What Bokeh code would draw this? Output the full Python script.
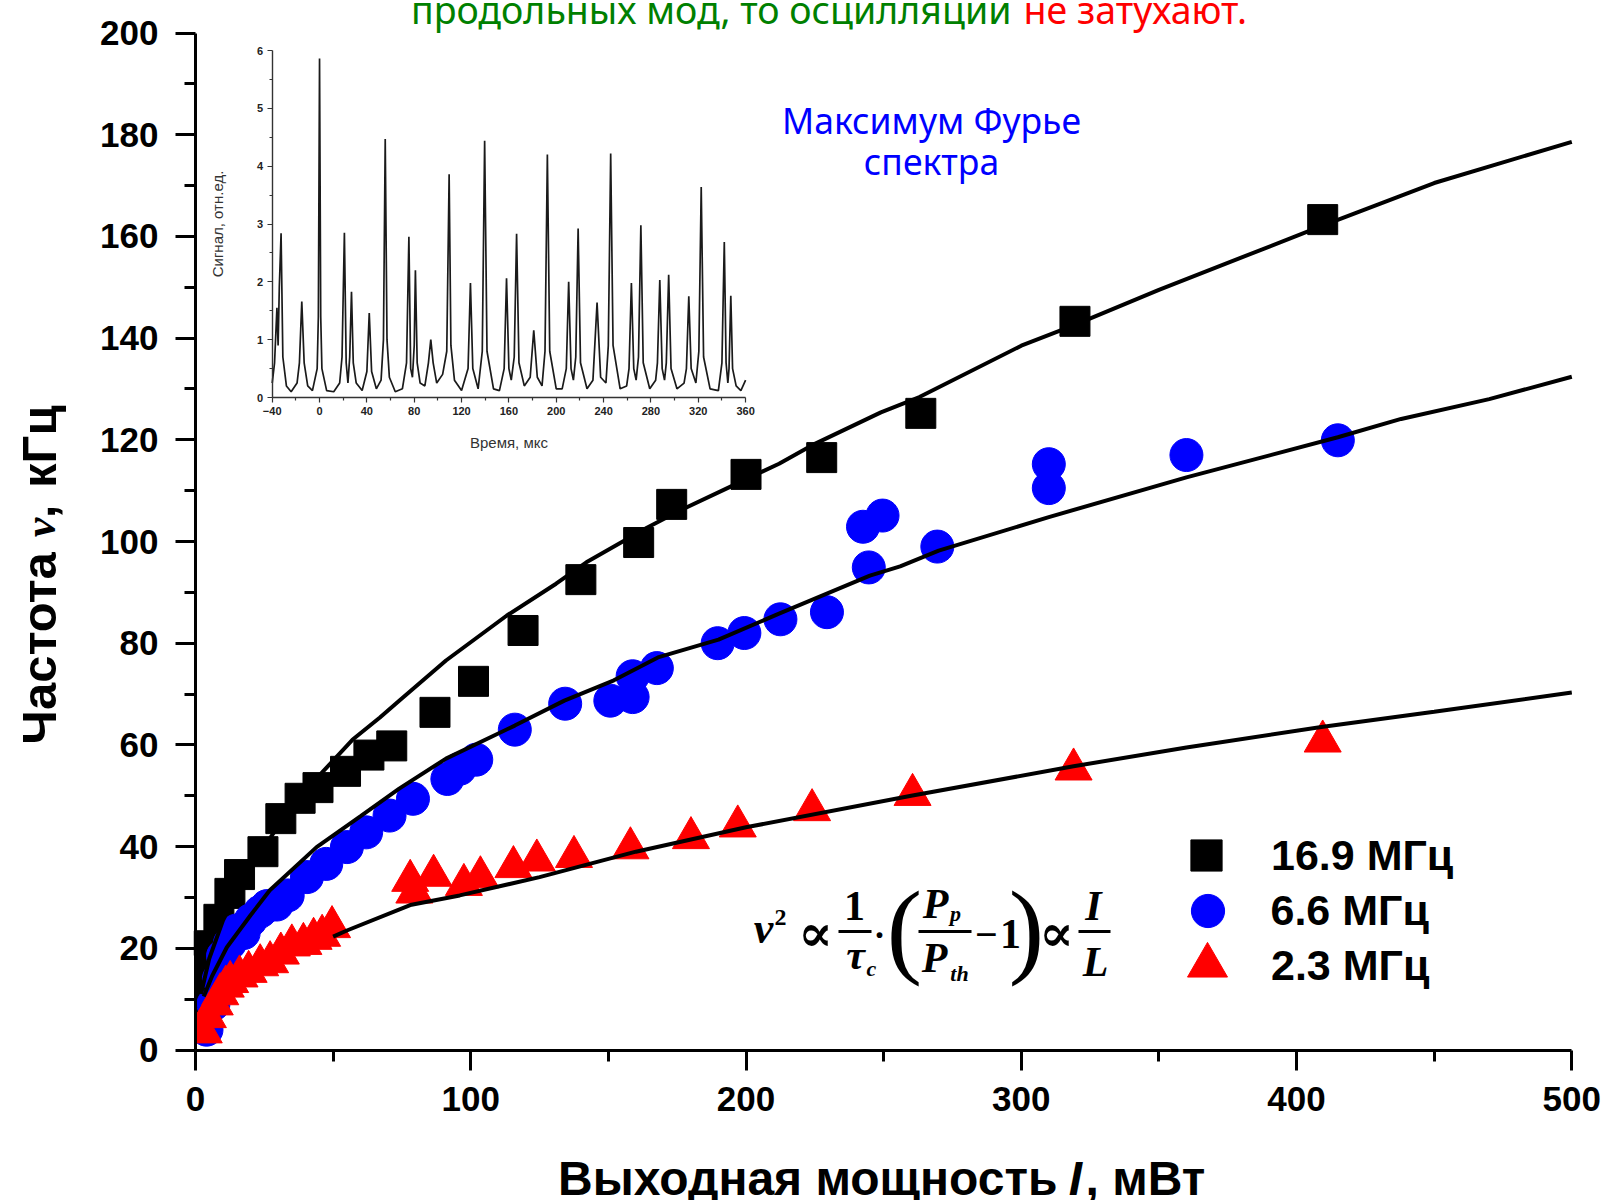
import math
from bokeh.plotting import figure
from bokeh.models import (Range1d, LinearAxis, FixedTicker, Label, BoxAnnotation,
                          Legend, LegendItem)
from bokeh.embed import file_html
from bokeh.resources import INLINE

# ---------------- data ----------------
# 16.9 MHz (black squares)
power_169 = [2.5, 3.5, 5, 8.5, 12.5, 16, 24.5, 31, 38, 44.5, 54.5, 63,
             71.3, 87, 101, 119, 140, 161, 173, 200, 227.5, 263.5, 319.5, 409.5]
freq_169 = [10, 15, 20.5, 25.7, 30.8, 34.5, 39, 45.5, 49.5, 51.6, 54.8, 58,
            59.8, 66.4, 72.5, 82.5, 92.5, 99.8, 107.3, 113.2, 116.5, 125.2, 143.3, 163.3]

# 6.6 MHz (blue circles)
power_66 = [4, 6.5, 8.5, 10, 12.5, 15, 17.5, 20, 23.5, 26, 29.5, 33.5, 40.5, 47.5,
            55, 62, 70.5, 79, 91.5, 96, 102, 116, 134.3, 150.7, 158.8, 158.8, 167.6,
            189.7, 199.4, 212.5, 229.4, 242.5, 244.6, 249.6, 269.5, 310, 310, 360, 415]
freq_66 = [4, 9, 14, 18.5, 21, 23.5, 23, 25.5, 27.2, 28.3, 28.6, 30.4, 34, 36.6,
           39.9, 42.8, 46.1, 49.4, 53.3, 55.3, 57.1, 63, 68.1, 68.7, 69.4, 73.5, 75.1,
           80, 82, 84.7, 86.1, 102.9, 94.9, 105.1, 99, 110.5, 115.2, 117, 119.9]

# 2.3 MHz (red triangles)
power_23 = [3, 4.5, 7, 9, 11, 12.6, 16, 19.3, 23.5, 27.1, 31, 35, 39.2, 42.9, 46, 49.6,
            78, 79.5, 86.5, 97.5, 103.5, 115.5, 124, 137.5, 158, 180, 197, 224, 260.5, 319, 409.5]
freq_23 = [3.5, 6.5, 9, 11, 12.5, 13.4, 14.5, 15.4, 16.7, 17.3, 19, 20.6, 20.9, 21.9, 22.5, 24.2,
           33.3, 31, 34.3, 32.5, 34, 36, 37.3, 38, 39.7, 41.7, 44, 47.2, 50.2, 55.2, 60.7]

# fitted curves
fit_169_x = [2, 5, 10, 20, 30, 45, 57, 67, 74, 91, 113, 131, 142, 164, 176, 194, 212,
             225, 249, 263, 300, 319, 350, 409, 450, 500]
fit_169_y = [11, 18, 25.5, 36, 44, 54, 61, 65.4, 68.7, 76.6, 85.4, 91.7, 95.9, 102.7,
             106.1, 110.7, 115.3, 119.2, 125.4, 128.4, 138.5, 142.5, 149.5, 162, 170.5, 178.6]
fit_66_x = [3, 6, 11.4, 20, 27, 44, 60, 74, 91, 116, 134, 152, 168, 190, 212, 245, 256,
            270, 310, 360, 415, 438, 470, 500]
fit_66_y = [10.5, 14.5, 20.2, 26.5, 31.4, 39.9, 46, 51.4, 57.3, 63.8, 68.7, 72.7, 77.2,
            80.7, 85.8, 93.3, 95.1, 98.2, 104.8, 112.6, 120.5, 124.1, 128, 132.4]
fit_23_x = [50, 55, 78, 96, 125, 160, 200, 260, 319, 360, 409, 450, 500]
fit_23_y = [22.3, 23.5, 28.5, 30.4, 34, 39, 43.8, 50, 55.8, 59.5, 63.5, 66.5, 70.3]

legend_labels = ["16.9 МГц", "6.6 МГц", "2.3 МГц"]
x_ticks = [0, 100, 200, 300, 400, 500]
y_ticks = [0, 20, 40, 60, 80, 100, 120, 140, 160, 180, 200]

# inset: oscillogram (time in µs, signal in a.u.)
inset_trace = [
    (-40, 0.25), (-38, 0.6), (-36, 1.55), (-35, 0.9), (-34, 1.9), (-32.5, 2.84), (-31, 0.7),
    (-28, 0.2), (-24, 0.1), (-19, 0.25), (-17, 0.6), (-15, 1.66), (-13, 0.6), (-10, 0.2),
    (-6, 0.12), (-2, 0.5), (-1, 1.4), (0, 5.86), (1, 1.4), (2, 0.5), (6, 0.12), (12, 0.1),
    (17, 0.25), (19, 0.7), (21, 2.85), (22.5, 0.6), (24, 0.25), (25.5, 0.7), (27, 1.83),
    (28.5, 0.6), (31, 0.25), (36, 0.12), (40, 0.45), (42, 1.46), (44, 0.45), (48, 0.15),
    (52, 0.3), (54, 1.0), (55.5, 4.47), (57, 1.0), (59, 0.35), (64, 0.1), (70, 0.15),
    (73.5, 0.6), (75.5, 2.78), (77, 0.5), (78.5, 0.35), (80, 0.9), (81, 2.2), (82.5, 0.6),
    (85, 0.25), (89, 0.2), (92, 0.6), (94, 1.0), (96, 0.6), (99, 0.25), (104, 0.4),
    (107.5, 0.8), (109.5, 3.86), (111, 0.9), (114, 0.3), (120, 0.12), (125.5, 0.5),
    (127.5, 1.98), (129.5, 0.5), (134, 0.15), (137.5, 0.8), (139.5, 4.44), (141.5, 0.8),
    (147, 0.15), (152, 0.12), (156, 0.5), (158, 2.06), (160, 0.5), (162, 0.3), (164.5, 0.7),
    (166.5, 2.83), (168.5, 0.6), (173, 0.2), (178, 0.35), (181, 1.16), (184, 0.35), (188, 0.2),
    (190.5, 0.8), (192.5, 4.2), (194.5, 0.8), (200, 0.15), (205, 0.15), (208.5, 0.5),
    (210.5, 2.0), (212.5, 0.5), (214.5, 0.3), (216.5, 0.7), (218.5, 2.92), (220.5, 0.6),
    (226, 0.15), (231, 0.3), (234.5, 1.64), (237.5, 0.35), (242, 0.25), (244, 0.9),
    (246, 4.22), (248, 0.9), (254, 0.15), (259.5, 0.2), (261.5, 0.5), (263.5, 1.98),
    (265.5, 0.5), (267.5, 0.3), (269.5, 0.7), (271.5, 2.98), (273.5, 0.6), (279, 0.15),
    (284, 0.3), (285.5, 0.6), (287.5, 2.03), (289.5, 0.5), (291.5, 0.3), (293, 0.6),
    (295, 2.12), (297, 0.5), (302, 0.15), (308, 0.25), (310, 0.5), (312, 1.75), (314, 0.5),
    (318, 0.25), (320.5, 0.8), (322.5, 3.64), (324.5, 0.7), (330, 0.15), (337, 0.12),
    (340, 0.6), (342, 2.69), (343.5, 0.6), (345, 0.25), (346, 0.5), (347.5, 1.76),
    (349, 0.5), (352, 0.2), (356, 0.12), (360, 0.3)]
inset_time = [t for t, s in inset_trace]
inset_signal = [s for t, s in inset_trace]
inset_xticks = [-40, 0, 40, 80, 120, 160, 200, 240, 280, 320, 360]
inset_yticks = [0, 1, 2, 3, 4, 5, 6]

# ---------------- layout geometry (page pixels) ----------------
W, H = 1605, 1200
X0P, X500P = 195.0, 1571.3     # x = 0 and x = 500
Y0P, Y200P = 1049.5, 32.5      # y = 0 and y = 200
SXU = (X500P - X0P) / 500.0
SYU = (Y0P - Y200P) / 200.0


def px_x(X):
    return (X - X0P) / SXU


def px_y(Y):
    return (Y0P - Y) / SYU


p = figure(width=W, height=H,
           x_range=Range1d(px_x(0), px_x(W)),
           y_range=Range1d(px_y(H), px_y(0)),
           x_axis_type=None, y_axis_type=None,
           output_backend="svg", toolbar_location=None,
           min_border_left=0, min_border_right=0, min_border_top=0, min_border_bottom=0)
p.outline_line_color = None
p.grid.visible = False
p.background_fill_color = "white"
p.border_fill_color = "white"

xa = LinearAxis(fixed_location=0, bounds=(0, 500),
                ticker=FixedTicker(ticks=x_ticks, minor_ticks=[v + 50 for v in x_ticks[:-1]]))
ya = LinearAxis(fixed_location=0, bounds=(0, 200),
                ticker=FixedTicker(ticks=y_ticks, minor_ticks=[v + 10 for v in y_ticks[:-1]]))
for ax in (xa, ya):
    ax.axis_line_width = 3
    ax.axis_line_color = "black"
    ax.major_tick_line_width = 3
    ax.minor_tick_line_width = 3
    ax.major_tick_line_color = "black"
    ax.minor_tick_line_color = "black"
    ax.major_tick_in = 0
    ax.major_tick_out = 20
    ax.minor_tick_in = 0
    ax.minor_tick_out = 11
    ax.major_label_text_font = "Liberation Sans"
    ax.major_label_text_font_style = "bold"
    ax.major_label_text_font_size = "35px"
    ax.major_label_text_color = "black"
    ax.major_label_standoff = 17
p.add_layout(xa, "below")
p.add_layout(ya, "left")

# ---------------- inset (oscillogram) ----------------
IX_L, IX_R = 271.7, 745.1   # page px of t=-40 and t=360
IY_B, IY_T = 397.0, 50.0    # page px of signal 0 and 6
ux = 400.0 / (IX_R - IX_L)
ix_start = -40 - IX_L * ux
uy = 6.0 / (IY_B - IY_T)
iy_start = -(H - IY_B) * uy
p.extra_x_ranges = {"ix": Range1d(ix_start, ix_start + W * ux)}
p.extra_y_ranges = {"iy": Range1d(iy_start, iy_start + H * uy)}

iax = LinearAxis(x_range_name="ix", y_range_name="iy", fixed_location=0,
                 bounds=(inset_xticks[0], inset_xticks[-1]),
                 ticker=FixedTicker(ticks=inset_xticks,
                                    minor_ticks=[t + 20 for t in inset_xticks[:-1]]),
                 axis_label="Время, мкс")
iay = LinearAxis(x_range_name="ix", y_range_name="iy", fixed_location=inset_xticks[0],
                 bounds=(inset_yticks[0], inset_yticks[-1]),
                 ticker=FixedTicker(ticks=inset_yticks,
                                    minor_ticks=[v + 0.5 for v in inset_yticks[:-1]]),
                 axis_label="Сигнал, отн.ед.")
for ax in (iax, iay):
    ax.axis_line_color = "#333333"
    ax.axis_line_width = 1.4
    ax.major_tick_line_color = "#333333"
    ax.minor_tick_line_color = "#333333"
    ax.major_tick_line_width = 1.2
    ax.minor_tick_line_width = 1.2
    ax.major_tick_in = 0
    ax.major_tick_out = 5
    ax.minor_tick_in = 0
    ax.minor_tick_out = 3
    ax.major_label_text_font = "Liberation Sans"
    ax.major_label_text_font_style = "bold"
    ax.major_label_text_font_size = "11px"
    ax.major_label_text_color = "#222222"
    ax.major_label_standoff = 4
    ax.axis_label_text_font = "Liberation Sans"
    ax.axis_label_text_font_style = "normal"
    ax.axis_label_text_font_size = "15px"
    ax.axis_label_text_color = "#333333"
iax.axis_label_standoff = 16
iay.axis_label_standoff = 28
p.add_layout(iax, "below")
p.add_layout(iay, "left")

p.line(inset_time, inset_signal, x_range_name="ix", y_range_name="iy",
       line_color="#1a1a1a", line_width=1.7)

# ---------------- main data ----------------
r_sq = p.scatter(power_169, freq_169, marker="square", size=30,
                 fill_color="black", line_color="black")
r_ci = p.scatter(power_66, freq_66, marker="circle", size=33,
                 fill_color="#0000ff", line_color="#0000ff")
r_tr = p.scatter(power_23, freq_23, marker="triangle", size=37,
                 fill_color="#ff0000", line_color="#ff0000")

for fx, fy in ((fit_169_x, fit_169_y), (fit_66_x, fit_66_y), (fit_23_x, fit_23_y)):
    p.line(fx, fy, line_color="black", line_width=4)

# the original clips the markers at the y axis: mask the part left of it (under the axis)
p.add_layout(BoxAnnotation(left=px_x(168), right=px_x(193.5), top=px_y(955),
                           bottom=px_y(1047), fill_color="white", fill_alpha=1,
                           line_color=None, level="glyph"))


# legend: one box per entry so each symbol gets its own size and row position
def legend_entry(renderer, text, box, cx, cy, label_left):
    left = cx - box / 2.0
    bottom = cy + box / 2.0
    p.add_layout(Legend(items=[LegendItem(label=text, renderers=[renderer])],
                        location=(left, H - bottom), glyph_width=box, glyph_height=box,
                        padding=0, margin=0, spacing=0,
                        label_standoff=int(round(label_left - (left + box))),
                        border_line_color=None, background_fill_alpha=0,
                        label_text_font="Liberation Sans", label_text_font_style="bold",
                        label_text_font_size="43px", label_text_color="black"))


legend_entry(r_sq, legend_labels[0], 78, 1206, 855, 1271)
legend_entry(r_ci, legend_labels[1], 83, 1207, 910, 1271)
legend_entry(r_tr, legend_labels[2], 100, 1207, 965, 1271)

# ---------------- texts ----------------
# text box centre offset above the baseline, in em, per font
MID = {"Liberation Sans": 0.3465, "Liberation Serif": 0.3375, "Noto Sans": 0.388,
       "DejaVu Serif": 0.346}


def lab(X, Y, text, size, color="black", font="Liberation Sans", style="normal",
        align="center", base=True, angle=0.0):
    """Y is the wanted baseline (base=True) or the wanted box centre (base=False)."""
    yc = Y - MID[font] * size if base else Y
    p.add_layout(Label(x=px_x(X), y=px_y(yc), text=text, text_font=font,
                       text_font_size=f"{size}px", text_font_style=style, text_color=color,
                       text_align=align, text_baseline="middle", angle=angle))


# top (cut) caption
lab(1011, 24, "продольных мод, то осцилляции", 37.5, color="#008000",
    font="Noto Sans", align="right")
lab(1023, 24, "не затухают.", 37.5, color="#ff0000", font="Noto Sans", align="left")

# Fourier annotation
lab(931, 133, "Максимум Фурье", 35.5, color="#0000ff", font="Noto Sans")
lab(931, 174, "спектра", 35.5, color="#0000ff", font="Noto Sans")

# x axis title (with italic I)
lab(1057, 1195, "Выходная мощность", 48, style="bold", align="right")
lab(1075, 1195, "I", 48, style="bold italic")
lab(1085, 1195, ", мВт", 48, style="bold", align="left")

# y axis title (rotated, reads bottom to top, with italic ν)
UP = math.pi / 2
lab(38, 744, "Частота", 49, style="bold", align="left", base=False, angle=UP)
lab(40, 527, "ν", 44, font="Liberation Serif", style="bold italic", base=False, angle=UP)
lab(38, 511, ",", 49, style="bold", base=False, angle=UP)
lab(38, 405, "кГц", 49, style="bold", align="right", base=False, angle=UP)

# formula  ν² ∝ 1/τc · (Pp/Pth − 1) ∝ I/L
SER = "Liberation Serif"
BI = "bold italic"
lab(763, 943, "ν", 44, font=SER, style=BI)
lab(780, 925.5, "2", 24, font=SER, style="bold")
lab(815, 931.7, "∝", 52, font="DejaVu Serif", style="bold", base=False)
lab(854, 919.3, "1", 42, font=SER, style="bold")
lab(855, 968.5, "τ", 42, font=SER, style=BI)
lab(871, 975.7, "c", 22, font=SER, style=BI)
lab(879, 934, "·", 36, font=SER, style="bold", base=False)
lab(904, 928, "(", 106, font=SER, base=False)
lab(935, 917.3, "P", 42, font=SER, style=BI)
lab(955, 920.5, "p", 22, font=SER, style=BI)
lab(934, 971.6, "P", 42, font=SER, style=BI)
lab(959, 980, "th", 22, font=SER, style=BI)
lab(986, 934, "−", 40, font=SER, style="bold", base=False)
lab(1010, 948, "1", 42, font=SER, style="bold")
lab(1026, 928, ")", 106, font=SER, base=False)
lab(1056, 931.7, "∝", 52, font="DejaVu Serif", style="bold", base=False)
lab(1093, 919.3, "I", 42, font=SER, style=BI)
lab(1095, 975.7, "L", 42, font=SER, style=BI)
for x0, x1 in ((838, 871), (918, 971), (1078, 1110)):
    p.add_layout(BoxAnnotation(left=px_x(x0), right=px_x(x1), top=px_y(929.5),
                               bottom=px_y(932.5), fill_color="black", fill_alpha=1,
                               line_color=None))

open("out.html", "w").write(file_html(p, INLINE))
